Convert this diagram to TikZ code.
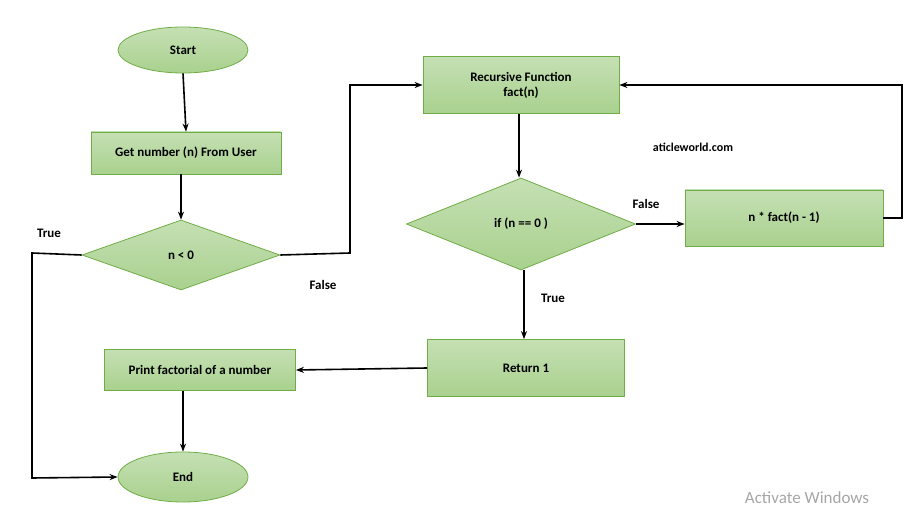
\documentclass[tikz,border=0pt]{standalone}
\usepackage{fontspec}
\setmainfont{Carlito}
\usetikzlibrary{shapes.geometric,arrows.meta}
\definecolor{gfill}{HTML}{A9D18E}
\definecolor{gtop}{HTML}{C5E0B4}
\definecolor{gline}{HTML}{70AD47}
\begin{document}
\begin{tikzpicture}[x=1pt,y=-1pt,
  base/.style={draw=gline,line width=0.8pt,top color=gtop,bottom color=gfill,font=\bfseries\fontsize{13}{15}\selectfont,align=center,inner sep=0pt},
  term/.style={base,ellipse,minimum width=130pt,minimum height=46pt},
  box/.style={base,rectangle},
  dec/.style={base,diamond,aspect=2.6},
  arr/.style={-{Stealth[length=8pt,width=6pt]},line width=1.6pt},
  lab/.style={font=\bfseries\fontsize{13}{15}\selectfont}]
\useasboundingbox (0,0) rectangle (906,513);
\node[term] (start) at (183,50) {Start};
\node[box,minimum width=190pt,minimum height=42pt] (get) at (186,153) {Get number (n) From User};
\node[dec,minimum width=198pt,minimum height=70pt] (nlt) at (181,255) {n < 0};
\node[box,minimum width=196pt,minimum height=57pt] (rec) at (521,85) {Recursive Function\\fact(n)};
\node[dec,minimum width=229pt,minimum height=92pt] (if) at (521,224) {if (n == 0 )};
\node[box,minimum width=198pt,minimum height=56pt] (mul) at (784,218) {n * fact(n - 1)};
\node[box,minimum width=197pt,minimum height=57pt] (ret) at (526,368) {Return 1};
\node[box,minimum width=191pt,minimum height=41pt] (prn) at (200,370) {Print factorial of a number};
\node[term,minimum height=50pt] (end) at (183,477) {End};
\node[lab,font=\bfseries\fontsize{12}{14}\selectfont] (web) at (693,147) {aticleworld.com};
\node[text=gray!70,font=\fontsize{17}{20}\selectfont] (act) at (807,498) {Activate Windows};
\coordinate (c1) at (350,253);
\coordinate (c2) at (350,85);
\coordinate (c3) at (32,253);
\coordinate (c4) at (32,478);
\coordinate (c5) at (902,218);
\coordinate (c6) at (902,85);
\draw[arr] (start.south) -- (get.north);
\draw[arr] (get.south -| 181,0) -- (nlt.north);
\draw[arr] (nlt.east) -- (c1) -- (c2) -- (rec.west);
\draw[arr] (nlt.west) -- (c3) -- (c4) -- (end.west);
\draw[arr] (rec.south -| 519,0) -- (if.north -| 519,0);
\draw[arr] (if.east) -- (mul.west |- if.east);
\draw[arr] (mul.east) -- (c5) -- (c6) -- (rec.east);
\draw[arr] (if.south -| 524,0) -- (ret.north -| 524,0);
\draw[arr] (ret.west) -- (prn.east);
\draw[arr] (prn.south -| 183,0) -- (end.north);
\node[lab] (lf1) at (323,285) {False};
\node[lab] (lt1) at (49,233) {True};
\node[lab] (lf2) at (646,204) {False};
\node[lab] (lt2) at (553,298) {True};
\end{tikzpicture}
\end{document}
